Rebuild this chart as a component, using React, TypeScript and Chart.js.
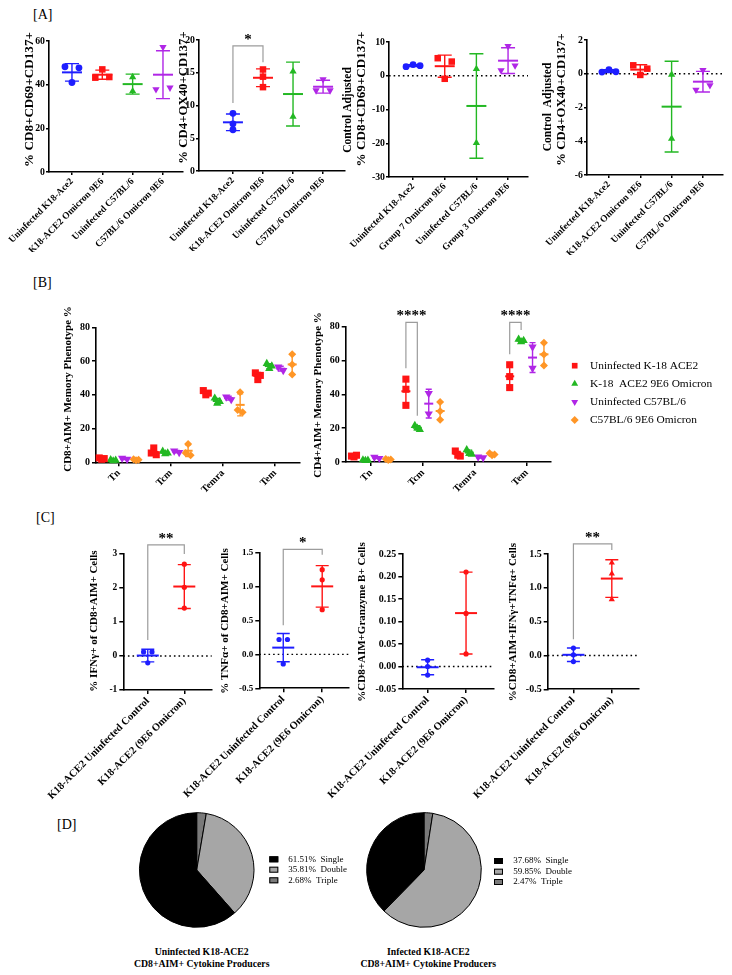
import React, { useEffect, useRef } from 'react';
import { Chart, registerables } from 'chart.js';

Chart.register(...registerables);

const SERIF = '"Liberation Serif", "Times New Roman", Times, serif';

// ---------------- DATA ----------------
const A_CATS = ['Uninfected K18-Ace2', 'K18-ACE2 Omicron 9E6', 'Uninfected C57BL/6', 'C57BL/6 Omicron 9E6'];
const A3_CATS = ['Uninfected K18-Ace2', 'Group 7 Omicron 9E6', 'Uninfected C57BL/6', 'Group 3 Omicron 9E6'];

const A1_TICKS = [0, 20, 40, 60];
const A1_VALUES = [[48.2, 41.0, 47.7], [43.2, 47.0, 43.5], [43.5, 37.0], [37.9, 57.2, 38.6]];
const A2_TICKS = [0, 5, 10, 15, 20];
const A2_VALUES = [[8.8, 7.2, 6.3], [15.5, 14.4, 12.8], [15.2, 8.3], [12.3, 14.0, 12.3]];
const A3_TICKS = [-30, -20, -10, 0, 10];
const A3_VALUES = [[2.7, 3.3, 3.0], [5.2, -0.9, 4.2], [2.0, -19.9], [1.6, 8.8, 3.0]];
const A4_TICKS = [-6, -4, -2, 0, 2];
const A4_VALUES = [[0.1, 0.25, 0.12], [0.5, -0.07, 0.3], [-0.05, -3.85], [-0.95, 0.22, -0.68]];

const B_CATS = ['Tn', 'Tcm', 'Temra', 'Tem'];
const B_SERIES = ['Uninfected K-18 ACE2', 'K-18  ACE2 9E6 Omicron', 'Uninfected C57BL/6', 'C57BL/6 9E6 Omicron'];
const B_TICKS = [0, 20, 40, 60, 80];
// values per category [Tn, Tcm, Temra, Tem]
const B1_UNINF_K18 = [[2.6, 1.8, 2.2], [8.5, 5.5, 4.5], [42.5, 40.0, 41.0], [53.0, 49.0, 51.5]];
const B1_K18_OMICRON = [[1.5, 0.8, 1.2], [6.5, 5.0, 5.5], [38.0, 35.0, 36.0], [58.5, 55.5, 57.0]];
const B1_UNINF_C57 = [[2.5, 1.8], [6.8, 5.8], [38.8, 37.2], [56.5, 54.5]];
const B1_C57_OMICRON = [[1.8, 1.2, 1.5], [10.8, 5.5, 4.2], [41.5, 31.0, 29.6], [64.0, 58.0, 52.0]];
const B2_UNINF_K18 = [[3.5, 3.0, 4.0], [49.0, 43.0, 33.5], [6.5, 4.0, 3.5], [57.5, 50.5, 44.0]];
const B2_K18_OMICRON = [[1.2, 0.8, 1.0], [21.5, 20.0, 19.2], [7.2, 5.0, 4.5], [72.5, 71.0, 71.8]];
const B2_UNINF_C57 = [[2.8, 2.2], [40.5, 28.5], [3.0, 2.5], [68.0, 55.5]];
const B2_C57_OMICRON = [[1.8, 1.2, 1.5], [35.5, 30.0, 25.0], [5.2, 4.0, 4.5], [70.5, 63.5, 57.0]];

const C_CATS = ['K18-ACE2 Uninfected Control', 'K18-ACE2 (9E6 Omicron)'];
const C1_TICKS = [-1, 0, 1, 2, 3];
const C1_VALUES = [[0.12, 0.12, -0.2], [2.7, 2.02, 1.41]];
const C2_TICKS = [-0.5, 0, 0.5, 1.0, 1.5];
const C2_VALUES = [[0.22, 0.22, -0.14], [1.25, 1.1, 0.66]];
const C3_TICKS = [-0.05, 0, 0.05, 0.1, 0.15, 0.2, 0.25];
const C3_VALUES = [[0.014, 0.0, -0.019], [0.21, 0.118, 0.028]];
const C4_TICKS = [-0.5, 0, 0.5, 1.0, 1.5];
const C4_VALUES = [[0.11, 0.01, -0.09], [1.37, 1.21, 0.83]];

const D_LABELS = ['Single', 'Double', 'Triple'];
const D1_VALUES = [61.51, 35.81, 2.68];
const D2_VALUES = [37.68, 59.85, 2.47];

// ---------------- STYLE ----------------
const BLUE = '#1e1eff';
const RED = '#ff1414';
const GREEN = '#23b823';
const PURPLE = '#b026e6';
const ORANGE = '#ff9626';
const PIE_COLORS = ['#000000', '#a6a6a6', '#7a7a7a'];

type Style = 'circle' | 'rect' | 'triangle' | 'rectRot';
interface Mark { color: string; style: Style; rot: number; r: number }
interface Group extends Mark { center: number; values: number[] }

const A_MARK: Mark[] = [
  { color: BLUE, style: 'circle', rot: 0, r: 3.4 },
  { color: RED, style: 'rect', rot: 0, r: 4.6 },
  { color: GREEN, style: 'triangle', rot: 0, r: 4.2 },
  { color: PURPLE, style: 'triangle', rot: 180, r: 4.2 },
];
const B_MARK: Mark[] = [
  { color: RED, style: 'rect', rot: 0, r: 5 },
  { color: GREEN, style: 'triangle', rot: 0, r: 4.8 },
  { color: PURPLE, style: 'triangle', rot: 180, r: 4.8 },
  { color: ORANGE, style: 'rectRot', rot: 0, r: 4.0 },
];
const C_MARK: Mark[] = [
  { color: BLUE, style: 'circle', rot: 0, r: 2.6 },
  { color: RED, style: 'circle', rot: 0, r: 2.6 },
];
const C4_MARK: Mark[] = [
  { color: BLUE, style: 'circle', rot: 0, r: 2.6 },
  { color: RED, style: 'triangle', rot: 0, r: 3.6 },
];

const aGroups = (vals: number[][]): Group[] => vals.map((v, i) => ({ center: i, values: v, ...A_MARK[i] }));
const cGroups = (vals: number[][], marks: Mark[]): Group[] => vals.map((v, i) => ({ center: i, values: v, ...marks[i] }));
const bGroups = (series: number[][][]): Group[] => {
  const out: Group[] = [];
  series.forEach((s, si) => s.forEach((vals, ci) => out.push({ center: ci + (si - 1.5) * 0.22, values: vals, ...B_MARK[si] })));
  return out;
};

const A_COMMON = { padT: 30, padR: 8, padB: 80, labelSize: 9.5, tickSize: 9.8, tickLen: 3, tickPad: 1, digits: 0, jitter: 7, meanHalf: 10, capHalf: 7 };
const B_COMMON = { padT: 30, padB: 45, labelSize: 10, tickSize: 10, tickLen: 4, tickPad: 2, digits: 0, jitter: 2.5, meanHalf: 4.5, capHalf: 3, labels: B_CATS, yTicks: B_TICKS };
const C_COMMON = { padT: 30, padR: 8, padB: 115, padL: 80, labelSize: 10.5, tickLen: 4, tickPad: 2, jitter: 4.2, meanHalf: 11, capHalf: 6.5, labels: C_CATS, zeroLine: true };

const PANELS: any[] = [
  { ...A_COMMON, L: 49, T: 41, R: 183, B: 172, padL: 45, xMin: -0.757, xMax: 3.66, labels: A_CATS, yTicks: A1_TICKS,
    groups: aGroups(A1_VALUES), titles: [{ text: '% CD8+CD69+CD137+', x: 30, y: 99.5, size: 13.1 }] },
  { ...A_COMMON, L: 199, T: 40, R: 345, B: 171, padL: 35, xMin: -1.13, xMax: 3.73, labels: A_CATS, yTicks: A2_TICKS,
    groups: aGroups(A2_VALUES), titles: [{ text: '% CD4+OX40+CD137+', x: 184, y: 97.5, size: 12.8 }],
    brackets: [{ x1: 0, x2: 1, top: 19.1, b1: 10.4, b2: 16.6, text: '*', size: 15 }] },
  { ...A_COMMON, L: 389, T: 42, R: 528, B: 177, padL: 50, xMin: -0.76, xMax: 3.63, labels: A3_CATS, yTicks: A3_TICKS,
    groups: aGroups(A3_VALUES), zeroLine: true,
    titles: [{ text: 'Control Adjusted', x: 348, y: 110, size: 11.5 }, { text: '% CD8+CD69+CD137+', x: 362, y: 99, size: 13.1 }] },
  { ...A_COMMON, L: 587, T: 40, R: 723, B: 175, padL: 50, xMin: -0.70, xMax: 3.64, labels: A_CATS, yTicks: A4_TICKS,
    groups: aGroups(A4_VALUES), zeroLine: true,
    titles: [{ text: 'Control  Adjusted', x: 548.3, y: 107, size: 11.5 }, { text: '% CD4+OX40+CD137+', x: 561.7, y: 99.5, size: 12.8 }] },
  { ...B_COMMON, L: 96, T: 327.3, R: 300, B: 462.3, padL: 40, padR: 8, xMin: -0.44, xMax: 3.48,
    groups: bGroups([B1_UNINF_K18, B1_K18_OMICRON, B1_UNINF_C57, B1_C57_OMICRON]),
    titles: [{ text: 'CD8+AIM+ Memory Phenotype %', x: 68.3, y: 389, size: 11 }] },
  { ...B_COMMON, L: 345.7, T: 326.7, R: 550.7, B: 462, padL: 40, padR: 179, xMin: -0.49, xMax: 3.46,
    groups: bGroups([B2_UNINF_K18, B2_K18_OMICRON, B2_UNINF_C57, B2_C57_OMICRON]),
    titles: [{ text: 'CD4+AIM+ Memory Phenotype %', x: 318.3, y: 395, size: 11 }],
    brackets: [
      { x1: 0.67, x2: 0.89, top: 82.6, b1: 55.4, b2: 27.4, text: '****', size: 15 },
      { x1: 2.67, x2: 2.89, top: 82.6, b1: 63.7, b2: 78, text: '****', size: 15 },
    ],
    legend: { items: B_SERIES.map((t, i) => ({ text: t, ...B_MARK[i], r: 4 })), mx: 574.7, tx: 590, y0: 365.7, dy: 18.1, size: 11.4 } },
  { ...C_COMMON, L: 123.3, T: 554, R: 211.7, B: 690, xMin: -0.67, xMax: 1.75, yTicks: C1_TICKS, tickSize: 9.5, digits: 0,
    groups: cGroups(C1_VALUES, C_MARK), titles: [{ text: '% IFNγ+ of CD8+AIM+ Cells', x: 94, y: 621, size: 11 }],
    brackets: [{ x1: 0, x2: 1, top: 3.27, b1: 0.47, b2: 3.0, text: '**', size: 15 }] },
  { ...C_COMMON, L: 259.3, T: 552.7, R: 348.3, B: 688.3, xMin: -0.615, xMax: 1.67, yTicks: C2_TICKS, tickSize: 9, digits: 1,
    groups: cGroups(C2_VALUES, C_MARK), titles: [{ text: '% TNFα+ of CD8+AIM+ Cells', x: 225, y: 621, size: 11 }],
    brackets: [{ x1: 0, x2: 1, top: 1.55, b1: 0.43, b2: 1.47, text: '*', size: 15 }] },
  { ...C_COMMON, L: 402.3, T: 554, R: 493.3, B: 689, xMin: -0.66, xMax: 1.71, yTicks: C3_TICKS, tickSize: 10, digits: 2,
    groups: cGroups(C3_VALUES, C_MARK), titles: [{ text: '%CD8+AIM+Granzyme B+ Cells', x: 362, y: 622, size: 11 }] },
  { ...C_COMMON, L: 547.7, T: 554, R: 638.3, B: 689.3, xMin: -0.67, xMax: 1.69, yTicks: C4_TICKS, tickSize: 10, digits: 1,
    groups: cGroups(C4_VALUES, C4_MARK), titles: [{ text: '%CD8+AIM+IFNγ+TNFα+ Cells', x: 513.3, y: 622, size: 11 }],
    brackets: [{ x1: 0, x2: 1, top: 1.65, b1: 0.24, b2: 1.56, text: '**', size: 15 }] },
];

// ---------------- HELPERS ----------------
function swarm(values: number[], pxPerY: number, thr = 5): number[] {
  const offs = values.map(() => 0);
  if (!values.length) return offs;
  const idx = values.map((_, i) => i).sort((a, b) => values[a] - values[b]);
  let cluster = [idx[0]];
  const flush = () => {
    const c = cluster.slice().sort((a, b) => a - b);
    const n = c.length;
    c.forEach((k, j) => { offs[k] = (j - (n - 1) / 2) * (n === 2 ? 2 : 1); });
  };
  for (let i = 1; i < idx.length; i++) {
    if ((values[idx[i]] - values[idx[i - 1]]) * pxPerY < thr) cluster.push(idx[i]);
    else { flush(); cluster = [idx[i]]; }
  }
  flush();
  return offs;
}

function drawMarker(ctx: CanvasRenderingContext2D, m: Mark, x: number, y: number) {
  const r = m.r;
  ctx.save();
  ctx.fillStyle = m.color;
  ctx.beginPath();
  if (m.style === 'circle') ctx.arc(x, y, r, 0, Math.PI * 2);
  else if (m.style === 'rect') { const s = r * Math.SQRT1_2; ctx.rect(x - s, y - s, 2 * s, 2 * s); }
  else if (m.style === 'triangle') {
    const g = m.rot === 180 ? -1 : 1;
    ctx.moveTo(x, y - g * r); ctx.lineTo(x + r * 0.866, y + g * r * 0.5); ctx.lineTo(x - r * 0.866, y + g * r * 0.5); ctx.closePath();
  } else { ctx.moveTo(x, y - r); ctx.lineTo(x + r, y); ctx.lineTo(x, y + r); ctx.lineTo(x - r, y); ctx.closePath(); }
  ctx.fill();
  ctx.restore();
}

function makeScatterConfig(p: any, cl: number, ct: number, W: number, H: number) {
  const yMin = p.yTicks[0];
  const yMax = p.yTicks[p.yTicks.length - 1];
  const pxPerX = (p.R - p.L) / (p.xMax - p.xMin);
  const pxPerY = (p.B - p.T) / (yMax - yMin);
  const datasets = p.groups.map((g: Group) => {
    const offs = swarm(g.values, pxPerY);
    return {
      type: 'scatter',
      data: g.values.map((v, i) => ({ x: g.center + (offs[i] * p.jitter) / pxPerX, y: v })),
      pointStyle: g.style,
      pointRotation: g.rot,
      pointRadius: g.r,
      pointBackgroundColor: g.color,
      pointBorderColor: g.color,
      pointBorderWidth: 0,
      showLine: false,
      clip: false,
    };
  });

  const deco = {
    id: 'deco',
    beforeDatasetsDraw(chart: any) {
      if (!p.zeroLine) return;
      const { ctx, chartArea, scales } = chart;
      const py = scales.y.getPixelForValue(0);
      ctx.save();
      ctx.strokeStyle = '#000';
      ctx.lineWidth = 1.3;
      ctx.setLineDash([1.6, 3]);
      ctx.beginPath();
      ctx.moveTo(chartArea.left, py);
      ctx.lineTo(chartArea.right, py);
      ctx.stroke();
      ctx.restore();
    },
    afterDatasetsDraw(chart: any) {
      const { ctx, scales } = chart;
      p.groups.forEach((g: Group) => {
        const n = g.values.length;
        const mean = g.values.reduce((a, b) => a + b, 0) / n;
        const sd = n > 1 ? Math.sqrt(g.values.reduce((a, b) => a + (b - mean) * (b - mean), 0) / (n - 1)) : 0;
        const cx = scales.x.getPixelForValue(g.center);
        const pm = scales.y.getPixelForValue(mean);
        const pt = scales.y.getPixelForValue(mean + sd);
        const pb = scales.y.getPixelForValue(mean - sd);
        ctx.save();
        ctx.strokeStyle = g.color;
        ctx.lineWidth = 1.4;
        ctx.beginPath();
        ctx.moveTo(cx, pt); ctx.lineTo(cx, pb);
        ctx.moveTo(cx - p.capHalf, pt); ctx.lineTo(cx + p.capHalf, pt);
        ctx.moveTo(cx - p.capHalf, pb); ctx.lineTo(cx + p.capHalf, pb);
        ctx.stroke();
        ctx.lineWidth = 2;
        ctx.beginPath();
        ctx.moveTo(cx - p.meanHalf, pm); ctx.lineTo(cx + p.meanHalf, pm);
        ctx.stroke();
        ctx.restore();
      });
    },
    afterDraw(chart: any) {
      const { ctx, scales } = chart;
      ctx.save();
      ctx.fillStyle = '#000';
      (p.titles || []).forEach((t: any) => {
        ctx.save();
        ctx.translate(t.x - cl, t.y - ct);
        ctx.rotate(-Math.PI / 2);
        ctx.font = `bold ${t.size}px ${SERIF}`;
        ctx.textAlign = 'center';
        ctx.textBaseline = 'middle';
        ctx.fillText(t.text, 0, 0);
        ctx.restore();
      });
      (p.brackets || []).forEach((b: any) => {
        const x1 = scales.x.getPixelForValue(b.x1);
        const x2 = scales.x.getPixelForValue(b.x2);
        const yt = scales.y.getPixelForValue(b.top);
        ctx.save();
        ctx.strokeStyle = '#9c9c9c';
        ctx.lineWidth = 1.2;
        ctx.beginPath();
        ctx.moveTo(x1, scales.y.getPixelForValue(b.b1));
        ctx.lineTo(x1, yt);
        ctx.lineTo(x2, yt);
        ctx.lineTo(x2, scales.y.getPixelForValue(b.b2));
        ctx.stroke();
        ctx.font = `bold ${b.size}px ${SERIF}`;
        ctx.textAlign = 'center';
        ctx.textBaseline = 'middle';
        ctx.fillStyle = '#000';
        ctx.fillText(b.text, (x1 + x2) / 2, yt - 6);
        ctx.restore();
      });
      if (p.legend) {
        const lg = p.legend;
        lg.items.forEach((it: any, i: number) => {
          const y = lg.y0 + i * lg.dy - ct;
          drawMarker(ctx, it, lg.mx - cl, y);
          ctx.font = `${lg.size}px ${SERIF}`;
          ctx.textAlign = 'left';
          ctx.textBaseline = 'middle';
          ctx.fillStyle = '#000';
          ctx.fillText(it.text, lg.tx - cl, y);
        });
      }
      ctx.restore();
    },
  };

  return {
    type: 'scatter',
    data: { datasets },
    options: {
      animation: false,
      responsive: false,
      events: [],
      layout: { padding: { left: 0, top: p.T - ct, right: cl + W - p.R, bottom: 0 } },
      plugins: { legend: { display: false }, tooltip: { enabled: false } },
      scales: {
        x: {
          type: 'linear',
          position: 'bottom',
          min: p.xMin,
          max: p.xMax,
          afterBuildTicks: (s: any) => { s.ticks = p.labels.map((_: string, i: number) => ({ value: i })); },
          afterFit: (s: any) => { s.height = ct + H - p.B; s.paddingLeft = 0; s.paddingRight = 0; },
          ticks: {
            autoSkip: false,
            minRotation: 45,
            maxRotation: 45,
            padding: 1,
            color: '#000',
            font: { family: SERIF, weight: 'bold', size: p.labelSize },
            callback: (v: number) => p.labels[Math.round(v)] ?? '',
          },
          grid: { drawOnChartArea: false, drawTicks: true, tickLength: p.tickLen, color: '#000', lineWidth: 1.5 },
          border: { display: true, color: '#000', width: 1.6 },
        },
        y: {
          type: 'linear',
          min: yMin,
          max: yMax,
          afterBuildTicks: (s: any) => { s.ticks = p.yTicks.map((v: number) => ({ value: v })); },
          afterFit: (s: any) => { s.width = p.L - cl; s.paddingTop = 0; s.paddingBottom = 0; },
          ticks: {
            padding: p.tickPad,
            color: '#000',
            font: { family: SERIF, weight: 'bold', size: p.tickSize },
            callback: (v: number) => Number(v).toFixed(p.digits),
          },
          grid: { drawOnChartArea: false, drawTicks: true, tickLength: p.tickLen, color: '#000', lineWidth: 1.5 },
          border: { display: true, color: '#000', width: 1.6 },
        },
      },
    },
    plugins: [deco],
  };
}

function ScatterChart({ p }: { p: any }) {
  const ref = useRef<HTMLCanvasElement>(null);
  const cl = Math.floor(p.L - p.padL);
  const ct = Math.floor(p.T - p.padT);
  const W = Math.ceil(p.R + p.padR) - cl;
  const H = Math.ceil(p.B + p.padB) - ct;
  useEffect(() => {
    const chart = new Chart(ref.current as HTMLCanvasElement, makeScatterConfig(p, cl, ct, W, H) as any);
    return () => chart.destroy();
  }, []);
  return <canvas ref={ref} width={W} height={H} style={{ position: 'absolute', left: cl, top: ct, width: W, height: H }} />;
}

function PieChart({ values, cx, cy, boxX, textX, rowY }: { values: number[]; cx: number; cy: number; boxX: number; textX: number; rowY: number[] }) {
  const ref = useRef<HTMLCanvasElement>(null);
  const left = Math.round(cx - 60);
  const top = Math.round(cy - 60);
  const W = 240;
  const H = 120;
  useEffect(() => {
    const ox = cx - left;
    const oy = cy - top;
    const half = 57.8;
    const legendPlugin = {
      id: 'pieLegend',
      afterDraw(chart: any) {
        const ctx = chart.ctx;
        ctx.save();
        D_LABELS.forEach((lab, i) => {
          const y = rowY[i] - top;
          ctx.fillStyle = PIE_COLORS[i];
          ctx.fillRect(boxX - left, y - 3, 9, 6);
          ctx.strokeStyle = '#000';
          ctx.lineWidth = 1;
          ctx.strokeRect(boxX - left + 0.5, y - 2.5, 8, 5);
          ctx.fillStyle = '#000';
          ctx.font = `9px ${SERIF}`;
          ctx.textAlign = 'left';
          ctx.textBaseline = 'middle';
          ctx.fillText(`${values[i].toFixed(2)}%  ${lab}`, textX - left, y);
        });
        ctx.restore();
      },
    };
    const order = [2, 1, 0];
    const chart = new Chart(ref.current as HTMLCanvasElement, {
      type: 'pie',
      data: {
        labels: order.map((i) => D_LABELS[i]),
        datasets: [{
          data: order.map((i) => values[i]),
          backgroundColor: order.map((i) => PIE_COLORS[i]),
          borderColor: '#000',
          borderWidth: 1,
          hoverOffset: 0,
        }],
      },
      options: {
        animation: false,
        responsive: false,
        events: [],
        layout: { padding: { left: ox - half, top: oy - half, right: W - ox - half, bottom: H - oy - half } },
        plugins: { legend: { display: false }, tooltip: { enabled: false } },
      },
      plugins: [legendPlugin],
    } as any);
    return () => chart.destroy();
  }, []);
  return <canvas ref={ref} width={W} height={H} style={{ position: 'absolute', left, top, width: W, height: H }} />;
}

const labelStyle = (x: number, y: number): React.CSSProperties => ({
  position: 'absolute', left: x, top: y, fontFamily: SERIF, fontSize: 14, lineHeight: '14px', color: '#000', whiteSpace: 'nowrap',
});

const captionStyle = (cx: number, y: number): React.CSSProperties => ({
  position: 'absolute', left: cx - 100, top: y, width: 200, textAlign: 'center', fontFamily: SERIF, fontWeight: 'bold',
  fontSize: 9.75, lineHeight: '11.6px', color: '#000', whiteSpace: 'nowrap',
});

export default function App() {
  return (
    <div style={{ position: 'absolute', left: 0, top: 0, width: 732, height: 975, background: '#fff', overflow: 'hidden' }}>
      <div style={labelStyle(33, 8)}>[A]</div>
      <div style={labelStyle(33, 276)}>[B]</div>
      <div style={labelStyle(36, 511)}>[C]</div>
      <div style={labelStyle(57, 818)}>[D]</div>
      {PANELS.map((p, i) => <ScatterChart key={i} p={p} />)}
      <PieChart values={D1_VALUES} cx={196.7} cy={870} boxX={269.3} textX={288.3} rowY={[859.3, 869.7, 880.3]} />
      <PieChart values={D2_VALUES} cx={424} cy={870} boxX={494} textX={513.3} rowY={[861, 871.7, 882]} />
      <div style={captionStyle(201.7, 946)}>Uninfected K18-ACE2<br />CD8+AIM+ Cytokine Producers</div>
      <div style={captionStyle(428.3, 946)}>Infected K18-ACE2<br />CD8+AIM+ Cytokine Producers</div>
    </div>
  );
}
